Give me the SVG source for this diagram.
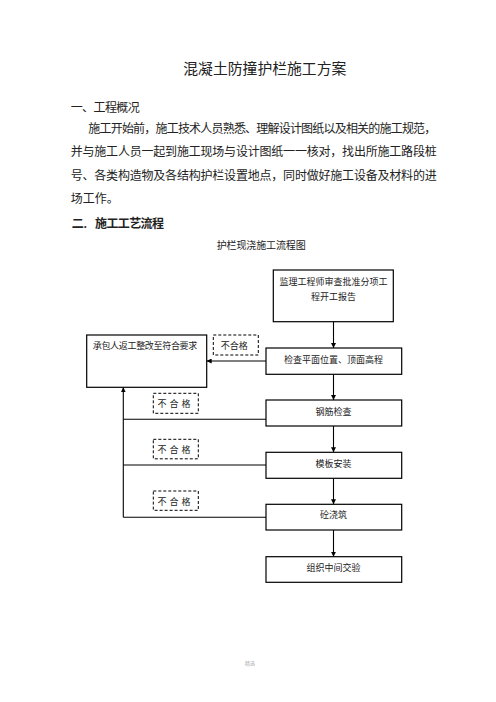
<svg xmlns="http://www.w3.org/2000/svg" width="496" height="702" viewBox="0 0 496 702">
<defs>
<marker id="ah" viewBox="0 0 10 10" refX="10" refY="5" markerWidth="5" markerHeight="5" orient="auto" markerUnits="userSpaceOnUse">
<path d="M0,0 L10,5 L0,10 Z" fill="#000"/>
</marker>
</defs>
<style>
text{font-family:"Liberation Serif","Noto Sans CJK SC",serif;fill:#222}
.box{fill:#fff;stroke:#000;stroke-width:1.2}
.dash{fill:#fff;stroke:#000;stroke-width:1;stroke-dasharray:3,2}
.c{stroke:#000;stroke-width:1.1;fill:none}
.bt{font-size:9px;text-anchor:middle}
.p{font-size:12px}
</style>
<rect width="496" height="702" fill="#fff"/>
<text x="183.3" y="73.5" font-size="15" textLength="163" lengthAdjust="spacingAndGlyphs">混凝土防撞护栏施工方案</text>
<text class="p" x="70.7" y="111.5" textLength="69" lengthAdjust="spacing">一、工程概况</text>
<text class="p" x="88.3" y="132.5" textLength="348" lengthAdjust="spacing">施工开始前，施工技术人员熟悉、理解设计图纸以及相关的施工规范，</text>
<text class="p" x="70.7" y="155.9" textLength="366" lengthAdjust="spacing">并与施工人员一起到施工现场与设计图纸一一核对，找出所施工路段桩</text>
<text class="p" x="70.7" y="179.9" textLength="366" lengthAdjust="spacing">号、各类构造物及各结构护栏设置地点，同时做好施工设备及材料的进</text>
<text class="p" x="70.7" y="203.2">场工作。</text>
<text class="p" x="71.7" y="228.3" font-weight="bold">二.</text>
<text class="p" x="95" y="228.3" font-weight="bold" textLength="69" lengthAdjust="spacing">施工工艺流程</text>
<text x="216.7" y="248.6" font-size="10" textLength="89" lengthAdjust="spacing">护栏现浇施工流程图</text>

<g id="connectors">
<line class="c" x1="333.5" y1="322" x2="333.5" y2="348" marker-end="url(#ah)"/>
<line class="c" x1="333.5" y1="374.3" x2="333.5" y2="400" marker-end="url(#ah)"/>
<line class="c" x1="333.5" y1="426" x2="333.5" y2="452.3" marker-end="url(#ah)"/>
<line class="c" x1="333.5" y1="478.3" x2="333.5" y2="504.3" marker-end="url(#ah)"/>
<line class="c" x1="333.5" y1="530" x2="333.5" y2="556.7" marker-end="url(#ah)"/>
<line class="c" x1="266" y1="361" x2="206.7" y2="361" stroke-width="1.5" marker-end="url(#ah)"/>
<line class="c" x1="266" y1="419.3" x2="123.3" y2="419.3"/>
<line class="c" x1="266" y1="465" x2="123.3" y2="465"/>
<line class="c" x1="266" y1="517.3" x2="123.3" y2="517.3"/>
<line class="c" x1="123.3" y1="517.3" x2="123.3" y2="387.3" marker-end="url(#ah)"/>
</g>

<g id="n-approve">
<rect class="box" x="273.3" y="270" width="120" height="51.7"/>
<text class="bt" x="333.5" y="285">监理工程师审查批准分项工</text>
<text class="bt" x="333.5" y="300">程开工报告</text>
</g>
<g id="n-check">
<rect class="box" x="266" y="348" width="135.7" height="26.3"/>
<text class="bt" x="333.5" y="362.6">检查平面位置、顶面高程</text>
</g>
<g id="n-rework">
<rect class="box" x="86.7" y="335" width="120" height="52.3"/>
<text class="bt" x="145" y="349.3" textLength="104.6" lengthAdjust="spacing">承包人返工整改至符合要求</text>
</g>
<g id="n-fail0">
<rect class="dash" x="213.3" y="335" width="45" height="20"/>
<text class="bt" x="234.2" y="349.3">不合格</text>
</g>
<g id="n-rebar">
<rect class="box" x="266" y="400" width="135.7" height="26"/>
<text class="bt" x="333.5" y="415">钢筋检查</text>
</g>
<g id="n-form">
<rect class="box" x="266" y="452.3" width="135.7" height="26"/>
<text class="bt" x="333.5" y="466.6">模板安装</text>
</g>
<g id="n-pour">
<rect class="box" x="266" y="504.3" width="135.7" height="25.7"/>
<text class="bt" x="333.5" y="518.3">砼浇筑</text>
</g>
<g id="n-accept">
<rect class="box" x="266" y="556.7" width="135.7" height="25.6"/>
<text class="bt" x="333.5" y="570.6">组织中间交验</text>
</g>
<g id="n-fail1">
<rect class="dash" x="153.3" y="393.3" width="45" height="20"/>
<text class="bt" x="175.5" y="407.3" letter-spacing="3">不合格</text>
</g>
<g id="n-fail2">
<rect class="dash" x="153.3" y="439.3" width="45" height="19.5"/>
<text class="bt" x="175.5" y="453.2" letter-spacing="3">不合格</text>
</g>
<g id="n-fail3">
<rect class="dash" x="153.3" y="491" width="45" height="19.3"/>
<text class="bt" x="175.5" y="504.9" letter-spacing="3">不合格</text>
</g>
<text x="250" y="665" font-size="5" text-anchor="middle" fill="#aaa" style="fill:#aaa">精选</text>
</svg>
